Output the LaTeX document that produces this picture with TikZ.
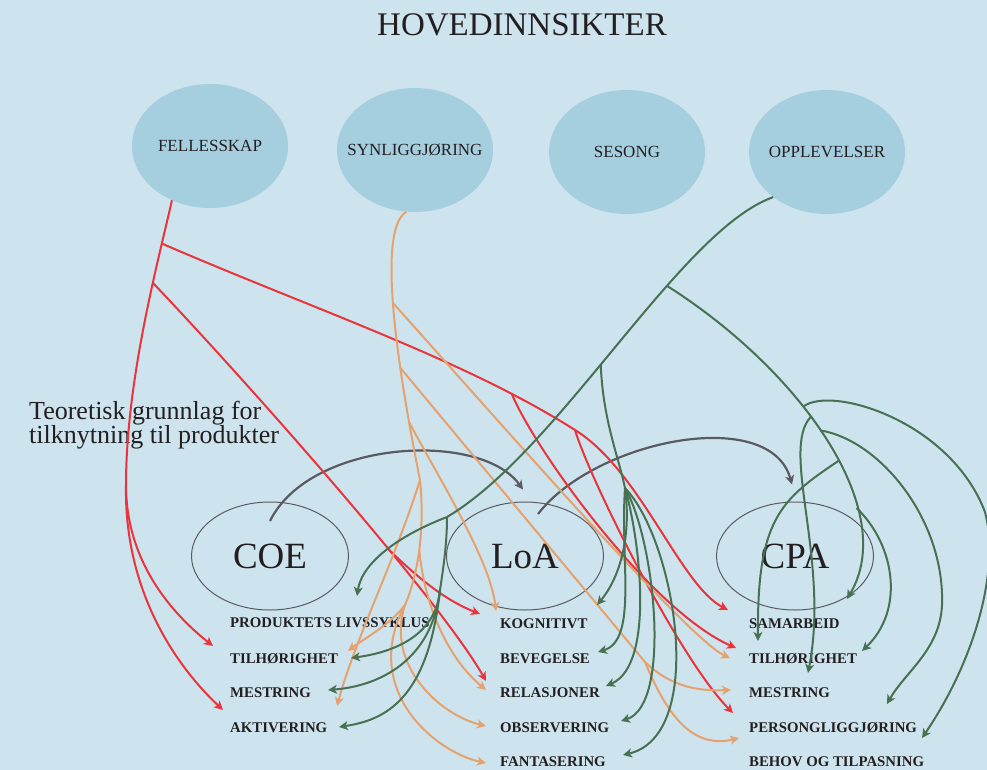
\documentclass[tikz,border=0pt]{standalone}
\usepackage{fontspec}
\setmainfont{Liberation Serif}
\usetikzlibrary{shapes.geometric,arrows.meta}

\definecolor{bgblue}{RGB}{205,228,238}
\definecolor{bubblefill}{RGB}{165,206,223}
\definecolor{inkgray}{RGB}{35,31,32}
\definecolor{ringgray}{RGB}{90,90,96}
\definecolor{linkred}{RGB}{232,52,58}
\definecolor{linkorange}{RGB}{230,162,110}
\definecolor{linkgreen}{RGB}{72,112,82}

\begin{document}
\begin{tikzpicture}[x=1pt,y=-1pt,
	bubble/.style={
		ellipse, fill=bubblefill, minimum width=156pt, minimum height=124pt,
		inner xsep=-30pt, inner ysep=0pt, text=inkgray, font=\fontsize{17}{20}\selectfont
	},
	theory/.style={
		ellipse, draw=ringgray, line width=1pt, minimum width=157pt, minimum height=108pt,
		inner sep=0pt, text=inkgray, font=\fontsize{37}{40}\selectfont
	},
	entry/.style={
		anchor=base west, inner sep=0pt, text=inkgray, font=\bfseries\fontsize{14.8}{16}\selectfont
	},
	headed/.style={-{Stealth[length=9pt,width=9pt,inset=2.5pt]}},
	redlink/.style={draw=linkred, line width=2pt},
	orangelink/.style={draw=linkorange, line width=2pt},
	greenlink/.style={draw=linkgreen, line width=2pt},
	greyarc/.style={draw=ringgray, line width=2.2pt}]
	% Background
	\fill[bgblue] (0,0) rectangle (987,770);
	\useasboundingbox (0,0) rectangle (987,770);
	
	% Title
	\node[text=inkgray, font=\fontsize{33}{36}\selectfont] (title) at (522,25) {HOVEDINNSIKTER};
	
	% Main insights
	\node[bubble] (fel) at (210,146) {FELLESSKAP};
	\node[bubble] (syn) at (415,150) {SYNLIGGJØRING};
	\node[bubble] (ses) at (627,152) {SESONG};
	\node[bubble] (opp) at (827,152) {OPPLEVELSER};
	
	% Side label
	\node[anchor=base west, inner sep=0pt, text=inkgray, font=\fontsize{26}{28}\selectfont] (teo1) at (29,419) {Teoretisk grunnlag for};
	\node[anchor=base west, inner sep=0pt, text=inkgray, font=\fontsize{26}{28}\selectfont] (teo2) at (29,443) {tilknytning til produkter};
	
	% Theories
	\node[theory] (coe) at (270,556) {COE};
	\node[theory] (loa) at (525,556) {LoA};
	\node[theory] (cpa) at (795,556) {CPA};
	
	% Products under each theory
	\node[entry] (coeLife) at (230,627) {PRODUKTETS LIVSSYKLUS};
	\node[entry] (coeBelong) at (230,663) {TILHØRIGHET};
	\node[entry] (coeMaster) at (230,697) {MESTRING};
	\node[entry] (coeActive) at (230,732) {AKTIVERING};
	\node[entry] (loaCog) at (500,628) {KOGNITIVT};
	\node[entry] (loaMove) at (500,663) {BEVEGELSE};
	\node[entry] (loaRel) at (500,697) {RELASJONER};
	\node[entry] (loaObs) at (500,732) {OBSERVERING};
	\node[entry] (loaFant) at (500,766) {FANTASERING};
	\node[entry] (cpaCoop) at (749,628) {SAMARBEID};
	\node[entry] (cpaBelong) at (749,663) {TILHØRIGHET};
	\node[entry] (cpaMaster) at (749,697) {MESTRING};
	\node[entry] (cpaPerson) at (749,732) {PERSONGLIGGJØRING};
	\node[entry] (cpaNeeds) at (749,766) {BEHOV OG TILPASNING};
	
	% Arrow ends
	\coordinate (rEndL1) at (213,646);
	\coordinate (rEndL2) at (223,710);
	\coordinate (rEndM1) at (480,614);
	\coordinate (rEndM2) at (486,681);
	\coordinate (rEndR1) at (728,610);
	\coordinate (rEndR2) at (736,648);
	\coordinate (rEndR3) at (733,713);
	\coordinate (oEndL1) at (348,651);
	\coordinate (oEndL2) at (337,706);
	\coordinate (oEndM1) at (496,611);
	\coordinate (oEndM2) at (486,690);
	\coordinate (oEndM3) at (486,726);
	\coordinate (oEndM4) at (486,763);
	\coordinate (oEndR1) at (730,658);
	\coordinate (oEndR2) at (731,690);
	\coordinate (oEndR3) at (739,738);
	\coordinate (gEnd0) at (357,596);
	\coordinate (gEndL1) at (351,658);
	\coordinate (gEndL2) at (328,690);
	\coordinate (gEndL3) at (339,727);
	\coordinate (gEndM1) at (597,605);
	\coordinate (gEndM2) at (598,652);
	\coordinate (gEndM3) at (606,686);
	\coordinate (gEndM4) at (621,721);
	\coordinate (gEndM5) at (623,755);
	\coordinate (gEndR0) at (847,599);
	\coordinate (gEndR1) at (758,641);
	\coordinate (gEndR2) at (808,673);
	\coordinate (gEndR3) at (862,651);
	\coordinate (gEndR4) at (887,704);
	\coordinate (gEndR5) at (922,738);
	
	% Theory to theory arcs
	\draw[greyarc,headed] ([yshift=35pt]coe.center) .. controls (310,440) and (480,430) .. ([xshift=-2pt,yshift=12pt]loa.north);
	\draw[greyarc,headed] ([xshift=13pt,yshift=42pt]loa.center) .. controls (595,440) and (770,405) .. ([xshift=-3pt,yshift=17pt]cpa.north);
	
	% FELLESSKAP links
	\coordinate (rSplit) at (126,485);
	\coordinate (rE) at (575,430);
	\draw[redlink] (fel.235) .. controls (158,262) and (126,380) .. (rSplit) coordinate[pos=0.2] (rA) coordinate[pos=0.35] (rB);
	\draw[redlink,headed] (rSplit) .. controls (126,560) and (170,612) .. (rEndL1);
	\draw[redlink,headed] (rSplit) .. controls (124,590) and (175,665) .. (rEndL2);
	\draw[redlink] (rA) .. controls (313,309) and (465,360) .. (rE) coordinate[pos=0.82] (rD);
	\draw[redlink,headed] (rE) .. controls (640,470) and (680,585) .. (rEndR1);
	\draw[redlink,headed] (rD) .. controls (535,450) and (650,610) .. (rEndR2);
	\draw[redlink,headed] (rE) .. controls (590,480) and (680,660) .. (rEndR3);
	\draw[redlink,headed] (rB) .. controls (250,385) and (440,600) .. (rEndM2) coordinate[pos=0.63] (rF);
	\draw[redlink,headed] (rF) .. controls (425,585) and (450,602) .. (rEndM1);
	
	% SYNLIGGJØRING links
	\coordinate (oSplit) at (420,480);
	\coordinate (oD) at (645,662);
	\coordinate (oT) at (405,605);
	\draw[orangelink] (syn.262) .. controls (375,230) and (400,380) .. (oSplit) coordinate[pos=0.46] (oB1) coordinate[pos=0.66] (oB2) coordinate[pos=0.82] (oB3);
	\draw[orangelink,headed] (oB1) .. controls (520,445) and (690,640) .. (oEndR1);
	\draw[orangelink] (oB2) -- (oD);
	\draw[orangelink,headed] (oD) .. controls (672,688) and (700,691) .. (oEndR2);
	\draw[orangelink,headed] (oD) .. controls (665,710) and (690,750) .. (oEndR3);
	\draw[orangelink,headed] (oB3) .. controls (440,480) and (490,560) .. (oEndM1);
	\draw[orangelink] (oSplit) .. controls (425,530) and (418,575) .. (oT) coordinate[pos=0.5] (oU);
	\draw[orangelink,headed] (oSplit) .. controls (395,560) and (355,640) .. (oEndL2);
	\draw[orangelink,headed] (oT) .. controls (390,625) and (362,640) .. (oEndL1);
	\draw[orangelink,headed] (oU) .. controls (425,610) and (450,660) .. (oEndM2);
	\draw[orangelink,headed] (oT) .. controls (385,665) and (440,715) .. (oEndM3);
	\draw[orangelink,headed] (oT) .. controls (360,690) and (435,752) .. (oEndM4);
	
	% OPPLEVELSER links
	\coordinate (gC) at (447,517);
	\coordinate (gD) at (440,590);
	\coordinate (gE) at (625,488);
	\coordinate (gOuter) at (985,512);
	\coordinate (gWide) at (942,605);
	\draw[greenlink] (opp.220) .. controls (680,230) and (560,450) .. (gC) coordinate[pos=0.35] (gB) coordinate[pos=0.55] (gS);
	\draw[greenlink,headed] (gC) .. controls (400,535) and (362,562) .. (gEnd0);
	\draw[greenlink] (gC) .. controls (447,545) and (443,570) .. (gD);
	\draw[greenlink,headed] (gD) .. controls (436,635) and (395,652) .. (gEndL1);
	\draw[greenlink,headed] (gD) .. controls (432,660) and (380,686) .. (gEndL2);
	\draw[greenlink,headed] (gD) .. controls (428,700) and (385,720) .. (gEndL3);
	\draw[greenlink] (gS) .. controls (603,420) and (618,455) .. (gE);
	\draw[greenlink,headed] (gE) .. controls (632,540) and (618,580) .. (gEndM1);
	\draw[greenlink,headed] (gE) .. controls (620,560) and (638,640) .. (gEndM2);
	\draw[greenlink,headed] (gE) .. controls (640,540) and (655,665) .. (gEndM3);
	\draw[greenlink,headed] (gE) .. controls (655,540) and (672,705) .. (gEndM4);
	\draw[greenlink,headed] (gE) .. controls (675,540) and (708,735) .. (gEndM5);
	\draw[greenlink,headed] (gB) .. controls (800,370) and (900,510) .. (gEndR0) coordinate[pos=0.4] (gR1) coordinate[pos=0.43] (gR2) coordinate[pos=0.47] (gR3) coordinate[pos=0.56] (gR4) coordinate[pos=0.7] (gR5);
	\draw[greenlink] (gR1) .. controls (830,385) and (950,420) .. (gOuter);
	\draw[greenlink,headed] (gOuter) .. controls (1000,570) and (975,660) .. (gEndR5);
	\draw[greenlink,headed] (gR2) .. controls (780,450) and (830,560) .. (gEndR2);
	\draw[greenlink] (gR3) .. controls (880,440) and (945,520) .. (gWide);
	\draw[greenlink,headed] (gWide) .. controls (940,650) and (905,672) .. (gEndR4);
	\draw[greenlink,headed] (gR4) .. controls (780,500) and (757,520) .. (gEndR1);
	\draw[greenlink,headed] (gR5) .. controls (895,545) and (905,610) .. (gEndR3);
\end{tikzpicture}
\end{document}
